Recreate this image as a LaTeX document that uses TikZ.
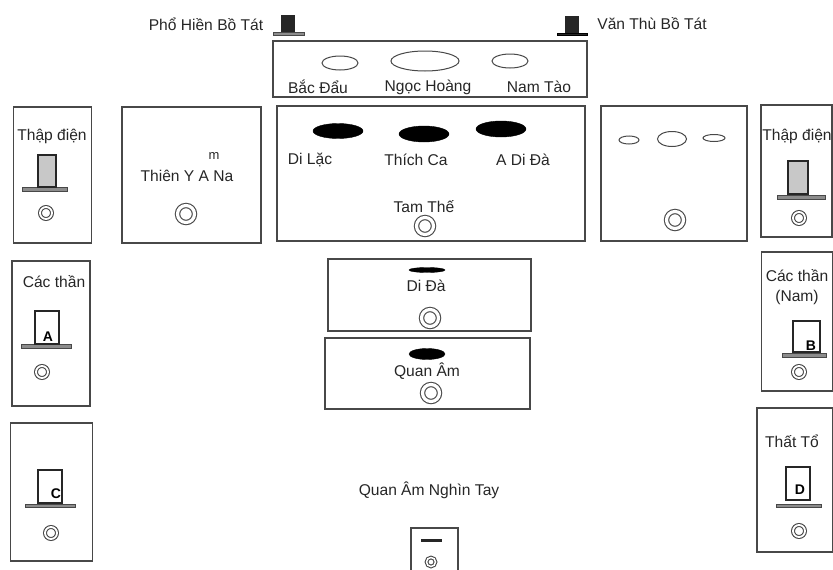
\documentclass[tikz,border=0pt]{standalone}
\usepackage{fontspec}
\setmainfont{Liberation Sans}
\usetikzlibrary{shapes.geometric}
\definecolor{HallLine}{HTML}{484848}
\definecolor{StatueGray}{HTML}{C8C8C8}
\tikzset{
  hallbox/.style={draw=HallLine, line width=1.2pt, inner sep=0pt},
  label/.style={inner sep=0pt, font=\fontsize{15.6}{20}\selectfont, align=center, text=black!85},
  statue/.style={draw=black!85, line width=1.1pt, inner sep=0pt},
  pedestal/.style={draw=HallLine, fill=StatueGray!70!black, line width=1pt, inner sep=0pt},
  whiteoval/.style={draw=HallLine, ellipse, line width=1pt, inner sep=0pt},
  blackoval/.style={draw=black, fill=black, ellipse, inner sep=0pt},
  bigring/.style={draw=HallLine, circle, double=white, double distance=3.2pt, line width=1.1pt, inner sep=0pt, minimum size=17pt},
  smallring/.style={draw=HallLine, circle, double=white, double distance=1.8pt, line width=1.1pt, inner sep=0pt, minimum size=12pt},
  tag/.style={inner sep=0pt, font=\fontsize{14}{15}\selectfont\bfseries}
}

\begin{document}
\begin{tikzpicture}[x=1pt, y=-1pt]
  \useasboundingbox (0,0) rectangle (833,570);
  % halls
  \node[hallbox, minimum width=314pt, minimum height=56pt] (saints) at (430,69) {};
  \node[hallbox, minimum width=78pt, minimum height=136pt] (tenleft) at (52.5,175) {};
  \node[hallbox, minimum width=139pt, minimum height=136pt] (thienya) at (191.5,175) {};
  \node[hallbox, minimum width=308pt, minimum height=135pt] (tamthe) at (431,173.5) {};
  \node[hallbox, minimum width=146pt, minimum height=135pt] (empty) at (674,173.5) {};
  \node[hallbox, minimum width=71pt, minimum height=132pt] (tenright) at (796.5,171) {};
  \node[hallbox, minimum width=78pt, minimum height=145pt] (godsleft) at (51,333.5) {};
  \node[hallbox, minimum width=82pt, minimum height=138pt] (cbox) at (51.5,492) {};
  \node[hallbox, minimum width=71pt, minimum height=139pt] (godsright) at (797,321.5) {};
  \node[hallbox, minimum width=76pt, minimum height=144pt] (thatto) at (795,480) {};
  \node[hallbox, minimum width=203pt, minimum height=72pt] (dida) at (429.5,295) {};
  \node[hallbox, minimum width=205pt, minimum height=71pt] (quanam) at (427.5,373.5) {};
  \node[hallbox, minimum width=47pt, minimum height=46pt] (thousand) at (434.5,551) {};

  % side statues at the top
  \node[pedestal, minimum width=31pt, minimum height=3pt] (phobase) at (288.5,33.5) {};
  \node[statue, fill=black!85, minimum width=12pt, minimum height=16pt, above=0pt] (pho) at (288,32) {};
  \node[draw=black, fill=black!85, inner sep=0pt, minimum width=30pt, minimum height=2.5pt] (vanbase) at (572,34) {};
  \node[statue, fill=black!85, minimum width=12pt, minimum height=16pt, above=0pt] (van) at (572,33) {};

  % statues in the side halls
  \node[pedestal, minimum width=45pt, minimum height=4pt] (tenleftbase) at (44.5,189) {};
  \node[statue, fill=StatueGray, minimum width=18pt, minimum height=32pt] (tenleftstatue) at (47,171) {};
  \node[pedestal, minimum width=48pt, minimum height=4.5pt] (tenrightbase) at (801,197.5) {};
  \node[statue, fill=StatueGray, minimum width=20pt, minimum height=33pt] (tenrightstatue) at (798,177.5) {};
  \node[pedestal, minimum width=50pt, minimum height=4pt] (abase) at (46,346.5) {};
  \node[statue, minimum width=24pt, minimum height=33pt] (astatue) at (47,327.5) {};
  \node[pedestal, minimum width=50pt, minimum height=3.5pt] (cbase) at (50,506) {};
  \node[statue, minimum width=24pt, minimum height=33pt] (cstatue) at (50,486.5) {};
  \node[pedestal, minimum width=44pt, minimum height=3.5pt] (bbase) at (804,355.5) {};
  \node[statue, minimum width=27pt, minimum height=31pt] (bstatue) at (806.5,336.5) {};
  \node[pedestal, minimum width=45pt, minimum height=3.5pt] (dbase) at (798.5,506) {};
  \node[statue, minimum width=24pt, minimum height=33pt] (dstatue) at (798,483.5) {};
  \node[tag] (atag) at (48,337) {A};
  \node[tag] (ctag) at (56,494) {C};
  \node[tag] (btag) at (811,346) {B};
  \node[tag] (dtag) at (800,490) {D};
  \node[draw=black!85, fill=black!85, inner sep=0pt, minimum width=20pt, minimum height=1.5pt] (thousandbar) at (431,540) {};

  % ovals
  \node[whiteoval, minimum width=36pt, minimum height=14pt] (bacdau) at (340,63) {};
  \node[whiteoval, minimum width=68pt, minimum height=20pt] (ngochoang) at (425,61) {};
  \node[whiteoval, minimum width=36pt, minimum height=14pt] (namtao) at (510,61) {};
  \node[blackoval, minimum width=50pt, minimum height=15pt] (dilac) at (338,131) {};
  \node[blackoval, minimum width=50pt, minimum height=16pt] (thichca) at (424,134) {};
  \node[blackoval, minimum width=50pt, minimum height=16pt] (adida) at (501,129) {};
  \node[whiteoval, minimum width=20pt, minimum height=8pt] (emptyleft) at (629,140) {};
  \node[whiteoval, minimum width=29pt, minimum height=15pt] (emptymid) at (672,139) {};
  \node[whiteoval, minimum width=22pt, minimum height=7pt] (emptyright) at (714,138) {};
  \node[blackoval, minimum width=36pt, minimum height=5pt] (didaoval) at (427,270) {};
  \node[blackoval, minimum width=36pt, minimum height=11pt] (quanamoval) at (427,354) {};

  % rings
  \node[bigring] (tamthering) at (425,226) {};
  \node[bigring] (thienyaring) at (186,214) {};
  \node[bigring] (emptyring) at (675,220) {};
  \node[bigring] (didaring) at (430,318) {};
  \node[bigring] (quanamring) at (431,393) {};
  \node[smallring] (tenleftring) at (46,213) {};
  \node[smallring] (tenrightring) at (799,218) {};
  \node[smallring] (aring) at (42,372) {};
  \node[smallring] (cring) at (51,533) {};
  \node[smallring] (bring) at (799,372) {};
  \node[smallring] (dring) at (799,531) {};
  \node[smallring, minimum size=9pt, double distance=1.5pt] (thousandring) at (431,562) {};

  % labels
  \node[label] (phohien) at (206,24) {Phổ Hiền Bồ Tát};
  \node[label] (vanthu) at (652,24) {Văn Thù Bồ Tát};
  \node[label] (bacdaulabel) at (318,87) {Bắc Đẩu};
  \node[label] (ngochoanglabel) at (428,87) {Ngọc Hoàng};
  \node[label] (namtaolabel) at (539,87) {Nam Tào};
  \node[label] (tenleftlabel) at (52,136) {Thập điện};
  \node[label] (tenrightlabel) at (797,136) {Thập điện};
  \node[label, font=\fontsize{13}{14}\selectfont] (mark) at (214,156) {m};
  \node[label] (thienyalabel) at (187,176) {Thiên Y A Na};
  \node[label] (dilaclabel) at (310,160) {Di Lặc};
  \node[label] (thichcalabel) at (416,160) {Thích Ca};
  \node[label] (adidalabel) at (523,160) {A Di Đà};
  \node[label] (tamthelabel) at (424,207) {Tam Thế};
  \node[label] (godsleftlabel) at (54,282) {Các thần};
  \node[label] (godsrightlabel) at (797,287) {Các thần\\(Nam)};
  \node[label] (thattolabel) at (792,441) {Thất Tổ};
  \node[label] (didalabel) at (426,286) {Di Đà};
  \node[label] (quanamlabel) at (427,371) {Quan Âm};
  \node[label] (thousandlabel) at (429,490) {Quan Âm Nghìn Tay};
\end{tikzpicture}
\end{document}
